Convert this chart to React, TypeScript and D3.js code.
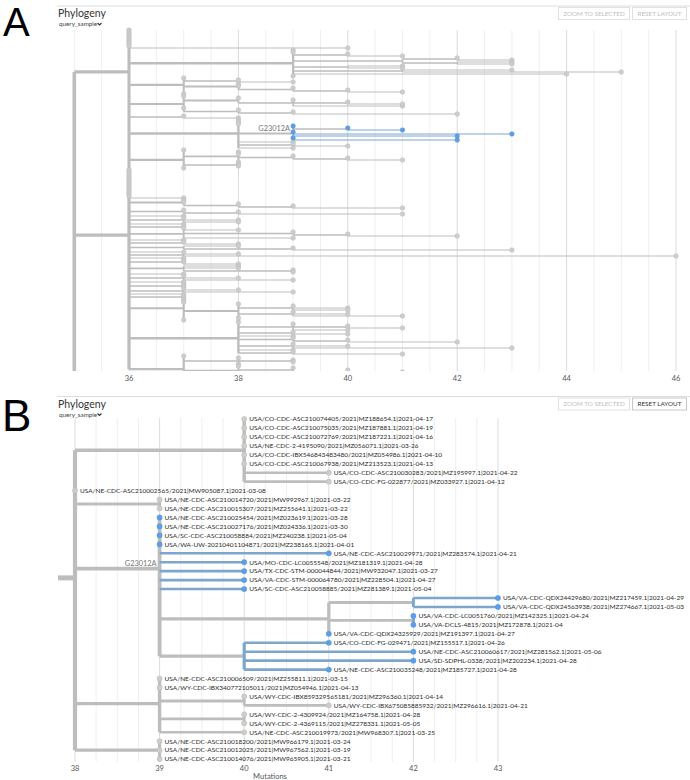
import React from "react";
import * as d3 from "d3";

// ---------- Panel A tree (compact notation: tip = mutation count, "(children)m" = internal node at m,
// "*" = query sample, "[label]" = mutation label) ----------
const cladeA1 =
  "(36,36,36,36,36,36,36,36,36,40," +
  "(39,39,(40,41)40,((42,43)42,(43,43)42)41,(41,41)40,(43,45)41,44,39)39," +
  "(37,(38,39)38,(38,38,(39,(40,41)40)39)38,37)37," +
  "(37,(38,(39,(40,41)40,41)39)38,37,(38,(39,42)39)38)37," +
  "(37,38)37," +
  "(38,38,38,(39*,(40*,41*)40,39*,43*,42*,39*,42*)39[G23012A],39,(39,40)39,39)38," +
  "(37,(38,38,(39,(40,41)40)39,38)38,(38,38)38,37)37,36)36";
const cladeA2 =
  "(36,36,36,36,36,36,36,36,36,36,36,36,36," +
  "37,(37,37,(38,(39,41)39)38)37,(37,(38,41)38)37,37,(37,38,38)37,37,(37,37)37," +
  "(38,(39,(40,42)40)39,39)37,37,(37,38)37,(38,(39,43)39)37,37,(38,46)37,37,(37,37,38)37," +
  "(38,38,(39,39)39)37,37,(37,38,39)37,37,(37,37,37)37,(38,39)37,37,(37,37)37," +
  "(37,37,(38,(39,40,40)39,(39,40,41)39,38)38,37)37," +
  "(38,(39,(40,41)40,40)39,(39,40)39,39,(39,(40,42)40)39,(39,40,43)39,39,(39,41)39)38," +
  "(37,(38,(39,39)39,38)38,(38,(39,(40,41,42)40)39,39)38,37,37)37)36";
const cladeA3 = "((37,(39,39)38)37,36,36,36,36,36,36,36,36,36,36,36,36,36,36,36,36)36";
const rootA = 35;
const ticksA = [36, 38, 40, 42, 44, 46];

// ---------- Panel B tree: [id, parent, mutations, label, query sample] ----------
const nodesB: [string, string, number, string, number][] = [
  ["root", "", 38, "", 0],
  ["co", "root", 40, "", 0],
  ["t0", "co", 40, "USA/CO-CDC-ASC210074405/2021|MZ188654.1|2021-04-17", 0],
  ["t1", "co", 40, "USA/CO-CDC-ASC210075035/2021|MZ187881.1|2021-04-19", 0],
  ["t2", "co", 40, "USA/CO-CDC-ASC210072769/2021|MZ187221.1|2021-04-16", 0],
  ["t3", "co", 40, "USA/NE-CDC-2-4195090/2021|MZ056071.1|2021-03-26", 0],
  ["t4", "co", 40, "USA/CO-CDC-IBX546843483480/2021|MZ054986.1|2021-04-10", 0],
  ["t5", "co", 40, "USA/CO-CDC-ASC210067938/2021|MZ213523.1|2021-04-13", 0],
  ["t6", "co", 41, "USA/CO-CDC-ASC210030283/2021|MZ195997.1|2021-04-22", 0],
  ["t7", "co", 41, "USA/CO-CDC-FG-022877/2021|MZ033927.1|2021-04-12", 0],
  ["t8", "root", 38, "USA/NE-CDC-ASC210002565/2021|MW905087.1|2021-03-08", 0],
  ["na", "root", 39, "", 0],
  ["t9", "na", 39, "USA/NE-CDC-ASC210014720/2021|MW992967.1|2021-03-22", 0],
  ["t10", "na", 39, "USA/NE-CDC-ASC210015307/2021|MZ255641.1|2021-03-22", 0],
  ["ng", "root", 39, "G23012A", 0],
  ["t11", "ng", 39, "USA/NE-CDC-ASC210025454/2021|MZ023619.1|2021-03-28", 1],
  ["t12", "ng", 39, "USA/NE-CDC-ASC210027176/2021|MZ024336.1|2021-03-30", 1],
  ["t13", "ng", 39, "USA/SC-CDC-ASC210058884/2021|MZ240238.1|2021-05-04", 1],
  ["t14", "ng", 39, "USA/WA-UW-20210401104871/2021|MZ238165.1|2021-04-01", 1],
  ["t15", "ng", 41, "USA/NE-CDC-ASC210029971/2021|MZ283574.1|2021-04-21", 1],
  ["t16", "ng", 40, "USA/MO-CDC-LC0055548/2021|MZ181319.1|2021-04-28", 1],
  ["t17", "ng", 40, "USA/TX-CDC-STM-000044844/2021|MW932047.1|2021-03-27", 1],
  ["t18", "ng", 40, "USA/VA-CDC-STM-000064780/2021|MZ228504.1|2021-04-27", 1],
  ["t19", "ng", 40, "USA/SC-CDC-ASC210058885/2021|MZ281389.1|2021-05-04", 1],
  ["n1", "ng", 41, "", 0],
  ["n2", "n1", 42, "", 0],
  ["t20", "n2", 43, "USA/VA-CDC-QDX24429680/2021|MZ217459.1|2021-04-29", 1],
  ["t21", "n2", 43, "USA/VA-CDC-QDX24563938/2021|MZ274667.1|2021-05-03", 1],
  ["n3", "n1", 42, "", 0],
  ["t22", "n3", 42, "USA/VA-CDC-LC0051760/2021|MZ142325.1|2021-04-24", 1],
  ["t23", "n3", 42, "USA/VA-DCLS-4815/2021|MZ172878.1|2021-04", 1],
  ["t24", "n1", 41, "USA/VA-CDC-QDX24325929/2021|MZ191397.1|2021-04-27", 1],
  ["n4", "ng", 40, "", 0],
  ["t25", "n4", 41, "USA/CO-CDC-FG-029471/2021|MZ155517.1|2021-04-26", 1],
  ["t26", "n4", 42, "USA/NE-CDC-ASC210060617/2021|MZ281562.1|2021-05-06", 1],
  ["t27", "n4", 42, "USA/SD-SDPHL-0338/2021|MZ202234.1|2021-04-28", 1],
  ["t28", "n4", 41, "USA/NE-CDC-ASC210035248/2021|MZ185727.1|2021-04-28", 1],
  ["n7", "root", 39, "", 0],
  ["t29", "n7", 39, "USA/NE-CDC-ASC210006509/2021|MZ255811.1|2021-03-15", 0],
  ["t30", "n7", 39, "USA/WY-CDC-IBX340772105011/2021|MZ054946.1|2021-04-13", 0],
  ["n8", "n7", 40, "", 0],
  ["t31", "n8", 40, "USA/WY-CDC-IBX859329565181/2021|MZ296360.1|2021-04-14", 0],
  ["t32", "n8", 41, "USA/WY-CDC-IBX675085885932/2021|MZ296616.1|2021-04-21", 0],
  ["n9", "n7", 40, "", 0],
  ["t33", "n9", 40, "USA/WY-CDC-2-4309924/2021|MZ164758.1|2021-04-28", 0],
  ["t34", "n9", 40, "USA/WY-CDC-2-4369115/2021|MZ278331.1|2021-05-05", 0],
  ["t35", "n7", 40, "USA/NE-CDC-ASC210019973/2021|MW968307.1|2021-03-25", 0],
  ["n10", "root", 39, "", 0],
  ["t36", "n10", 39, "USA/NE-CDC-ASC210018200/2021|MW966179.1|2021-03-24", 0],
  ["t37", "n10", 39, "USA/NE-CDC-ASC210012025/2021|MW967562.1|2021-03-19", 0],
  ["t38", "n10", 39, "USA/NE-CDC-ASC210014076/2021|MW965905.1|2021-03-21", 0],
];
const ticksB = [38, 39, 40, 41, 42, 43];

// ---------- helpers ----------
type TNode = { mut: number; label?: string; sel?: boolean; children?: TNode[] };

function parseTree(src: string): TNode {
  const s = src.replace(/\s+/g, "");
  let i = 0;
  function node(): TNode {
    let children: TNode[] | undefined;
    if (s[i] === "(") {
      i++;
      children = [];
      for (;;) {
        children.push(node());
        if (s[i] === ",") { i++; continue; }
        if (s[i] === ")") { i++; break; }
        throw new Error("parse error at " + i);
      }
    }
    let num = "";
    while (i < s.length && /[0-9.]/.test(s[i])) num += s[i++];
    let sel = false;
    if (s[i] === "*") { sel = true; i++; }
    let label: string | undefined;
    if (s[i] === "[") { const j = s.indexOf("]", i); label = s.slice(i + 1, j); i = j + 1; }
    return { mut: +num, sel, label, children };
  }
  return node();
}

function buildFromRows(rows: typeof nodesB): TNode {
  const map = new Map<string, TNode>();
  let root: TNode | null = null;
  rows.forEach(([id, parent, mut, label, sel]) => {
    const n: TNode = { mut, label, sel: !!sel };
    map.set(id, n);
    if (!parent) root = n;
    else {
      const p = map.get(parent)!;
      (p.children ||= []).push(n);
    }
  });
  return root!;
}

type Seg = { x1: number; x2: number; y1: number; y2: number; w: number; blue: boolean };

function layoutTree(
  data: TNode,
  x: d3.ScaleLinear<number, number>,
  y0: number,
  dy: number,
  wBase: number,
  wLog: number
) {
  const root = d3.hierarchy<TNode>(data, (d) => d.children);
  let k = 0;
  const Y = new Map<any, number>();
  root.eachAfter((n) => {
    if (!n.children) Y.set(n, y0 + dy * k++);
    else Y.set(n, d3.mean(n.children, (c) => Y.get(c)!)!);
  });
  root.count();
  const segs: Seg[] = [];
  const dots: { x: number; y: number; blue: boolean; label?: string }[] = [];
  const labels: { x: number; y: number; text: string }[] = [];
  root.each((n) => {
    const nx = x(n.data.mut);
    const ny = Y.get(n)!;
    const w = Math.min(4.6, wBase + wLog * Math.log2(n.value || 1));
    if (n.parent) {
      const px = x(n.parent.data.mut);
      if (Math.abs(px - nx) > 0.01)
        segs.push({ x1: px, x2: nx, y1: ny, y2: ny, w, blue: !n.children && !!n.data.sel });
    }
    if (n.children) {
      const ys = n.children.map((c) => Y.get(c)!);
      const allSel = n.children.every((c) => !c.children && c.data.sel);
      segs.push({ x1: nx, x2: nx, y1: d3.min(ys)!, y2: d3.max(ys)!, w, blue: allSel });
      if (n.data.label) labels.push({ x: nx, y: ny, text: n.data.label });
    } else {
      dots.push({ x: nx, y: ny, blue: !!n.data.sel, label: n.data.label });
    }
  });
  return { segs, dots, labels, rootY: Y.get(root)!, rootX: x(root.data.mut) };
}

const GRAY = "#bdbdbd";
const BLUE_LINE = "#7ea5cc";
const BLUE_DOT = "#5b9fe6";
const FONT = "Lato, 'Open Sans', sans-serif";

function Header({ y, resetActive }: { y: number; resetActive: boolean }) {
  return (
    <g>
      <line x1={57} x2={690} y1={y} y2={y} stroke="#dcdcdc" strokeWidth={1} />
      <text x={58} y={y + 11} fontSize={10.5} fill="#333" fontFamily={FONT}>Phylogeny</text>
      <text x={59} y={y + 20} fontSize={6.3} fill="#444" fontFamily={FONT}>query_sample</text>
      <polyline
        points={`${97.5},${y + 17} ${99.5},${y + 19} ${101.5},${y + 17}`}
        fill="none"
        stroke="#333"
        strokeWidth={1.1}
      />
      <rect x={558.5} y={y + 1.5} width={71} height={12} fill="#fff" stroke="#e0e0e0" />
      <text x={594} y={y + 9.8} fontSize={6.3} fill="#c0c0c0" textAnchor="middle" fontFamily={FONT}>
        ZOOM TO SELECTED
      </text>
      <rect x={632.5} y={y + 1.5} width={54} height={12} fill="#fff" stroke={resetActive ? "#c8c8c8" : "#e0e0e0"} />
      <text
        x={659.5}
        y={y + 9.8}
        fontSize={6.3}
        fill={resetActive ? "#333" : "#c0c0c0"}
        textAnchor="middle"
        fontFamily={FONT}
      >
        RESET LAYOUT
      </text>
    </g>
  );
}

function TreeMarks({ t, dotR, showTipLabels, labelSize, labelFont }: any) {
  return (
    <g>
      {t.segs
        .filter((s: Seg) => !s.blue)
        .map((s: Seg, i: number) => (
          <line key={"g" + i} x1={s.x1} x2={s.x2} y1={s.y1} y2={s.y2} stroke={GRAY} strokeWidth={s.w} />
        ))}
      {t.segs
        .filter((s: Seg) => s.blue)
        .map((s: Seg, i: number) => (
          <line key={"b" + i} x1={s.x1} x2={s.x2} y1={s.y1} y2={s.y2} stroke={BLUE_LINE} strokeWidth={s.w} />
        ))}
      {t.dots.map((d: any, i: number) => (
        <circle
          key={"d" + i}
          cx={d.x}
          cy={d.y}
          r={dotR}
          fill={d.blue ? BLUE_DOT : "#cdcdcd"}
          stroke={d.blue ? "#4f93dc" : "#bababa"}
          strokeWidth={0.5}
        />
      ))}
      {showTipLabels &&
        t.dots.map((d: any, i: number) => (
          <text key={"l" + i} x={d.x + 5} y={d.y} dy="0.36em" fontSize={labelSize} fill="#2a2a2a" fontFamily={FONT}>
            {d.label}
          </text>
        ))}
      {t.labels.map((l: any, i: number) => (
        <text
          key={"m" + i}
          x={l.x - 3}
          y={l.y - 2.5}
          fontSize={labelFont}
          fill="#777"
          textAnchor="end"
          fontFamily={FONT}
        >
          {l.text}
        </text>
      ))}
    </g>
  );
}

export default function App() {
  // Panel A
  const xA = d3.scaleLinear().domain([35, 46]).range([74.3, 676]);
  const treeA = parseTree("(" + cladeA1 + "," + cladeA2 + "," + cladeA3 + ")" + rootA);
  const tA = layoutTree(treeA, xA, 30, 2, 1.0, 0.34);
  const gridA = d3.range(35, 46.001, 0.5);

  // Panel B
  const xB = d3.scaleLinear().domain([38, 43]).range([75, 498]);
  const treeB = buildFromRows(nodesB);
  const tB = layoutTree(treeB, xB, 419, 8.95, 2.6, 0.3);
  const gridB = d3.range(38, 43.001, 0.25);

  return (
    <svg width={690} height={780} style={{ position: "absolute", left: 0, top: 0, background: "#fff" }}>
      <rect width={690} height={780} fill="#fff" />
      <defs>
        <clipPath id="clipA">
          <rect x={55} y={26} width={635} height={345} />
        </clipPath>
      </defs>

      {/* Panel A */}
      <text x={3} y={36} fontSize={40} fontFamily="'Liberation Sans', Arial, sans-serif" fill="#000">A</text>
      <Header y={6} resetActive={false} />
      {gridA.map((v) => (
        <line
          key={"ga" + v}
          x1={xA(v)}
          x2={xA(v)}
          y1={30}
          y2={371}
          stroke={ticksA.includes(v) ? "#dadada" : "#efefef"}
          strokeWidth={1}
        />
      ))}
      <g clipPath="url(#clipA)">
        <TreeMarks t={tA} dotR={2.3} showTipLabels={false} labelFont={7.4} />
      </g>
      {ticksA.map((v) => (
        <text key={"ta" + v} x={xA(v)} y={381} fontSize={7.5} fill="#555" textAnchor="middle" fontFamily={FONT}>
          {v}
        </text>
      ))}

      {/* Panel B */}
      <text x={2} y={431} fontSize={44} fontFamily="'Liberation Sans', Arial, sans-serif" fill="#000">B</text>
      <Header y={396.5} resetActive={true} />
      {gridB.map((v) => (
        <line
          key={"gb" + v}
          x1={xB(v)}
          x2={xB(v)}
          y1={418}
          y2={762}
          stroke={Number.isInteger(v) ? "#dcdcdc" : "#efefef"}
          strokeWidth={1}
        />
      ))}
      <line x1={58} x2={tB.rootX} y1={tB.rootY} y2={tB.rootY} stroke={GRAY} strokeWidth={5} />
      <TreeMarks t={tB} dotR={2.6} showTipLabels={true} labelSize={6.5} labelFont={7.4} />
      {ticksB.map((v) => (
        <text key={"tb" + v} x={xB(v)} y={771} fontSize={7.5} fill="#555" textAnchor="middle" fontFamily={FONT}>
          {v}
        </text>
      ))}
      <text x={270} y={779} fontSize={7.5} fill="#555" textAnchor="middle" fontFamily={FONT}>
        Mutations
      </text>
    </svg>
  );
}
